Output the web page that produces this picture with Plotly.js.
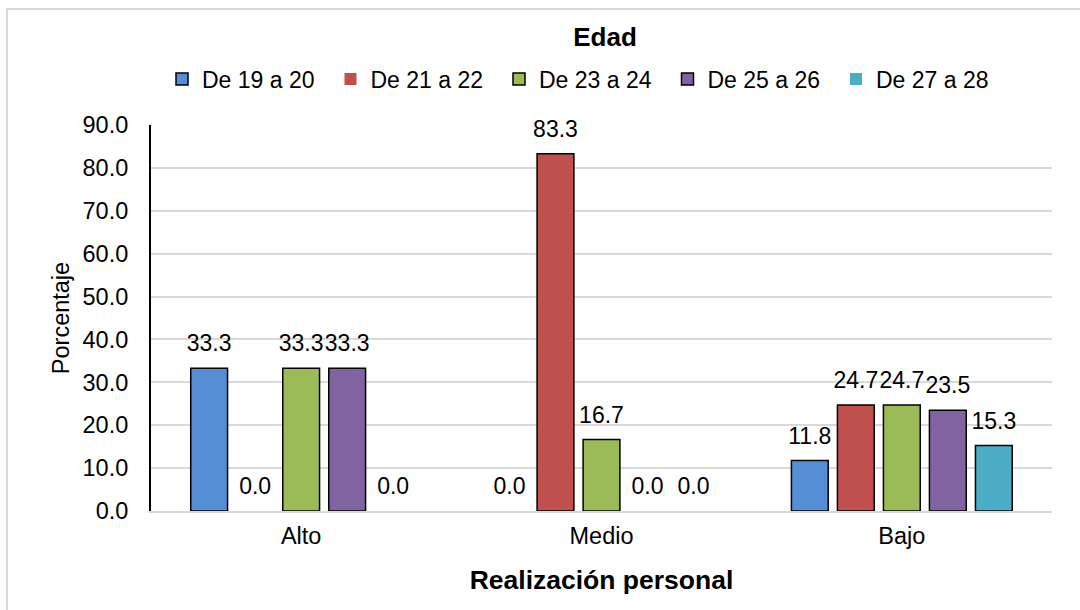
<!DOCTYPE html>
<html>
<head>
<meta charset="utf-8">
<script src="https://cdn.plot.ly/plotly-3.0.1.min.js"></script>
<style>
  html, body { margin: 0; padding: 0; background: #ffffff; overflow: hidden; }
  #frame { position: absolute; left: 6px; top: 8px; width: 1200px; height: 800px;
           border-left: 2px solid #d9d9d9; border-top: 2px solid #d9d9d9; }
  #chart { position: absolute; left: 0; top: 0; width: 1080px; height: 610px; }
</style>
</head>
<body>
<div id="frame"></div>
<div id="chart"></div>
<script>
// ---- Data ----
const categories = ['Alto', 'Medio', 'Bajo'];
const seriesNames = ['De 19 a 20', 'De 21 a 22', 'De 23 a 24', 'De 25 a 26', 'De 27 a 28'];
const de19a20 = [33.3, 0.0, 11.8];
const de21a22 = [0.0, 83.3, 24.7];
const de23a24 = [33.3, 16.7, 24.7];
const de25a26 = [33.3, 0.0, 23.5];
const de27a28 = [0.0, 0.0, 15.3];
const yTickVals = [0, 10, 20, 30, 40, 50, 60, 70, 80, 90];

const seriesValues = [de19a20, de21a22, de23a24, de25a26, de27a28];
const colors = ['#558ED5', '#C0504D', '#9BBB59', '#8064A2', '#4BACC6'];
const FONT = 'Liberation Sans, Arial, sans-serif';
const FS = 23.5;

const traces = [];
seriesValues.forEach((vals, i) => {
  traces.push({
    type: 'bar',
    name: seriesNames[i],
    x: categories,
    y: vals,
    marker: {
      color: colors[i],
      line: { color: '#000000', width: vals.map(v => (v === 0 ? 0 : 1.5)) }
    },
    hoverinfo: 'skip'
  });
});
// value labels, grouped like the bars
seriesValues.forEach((vals, i) => {
  traces.push({
    type: 'scatter',
    mode: 'markers+text',
    x: categories,
    y: vals,
    text: vals.map(v => v.toFixed(1)),
    textposition: 'top center',
    textfont: { family: FONT, size: 23, color: '#000000' },
    marker: { size: 16, opacity: 0 },
    showlegend: false,
    hoverinfo: 'skip',
    cliponaxis: false
  });
});

const layout = {
  width: 1080,
  height: 610,
  paper_bgcolor: 'rgba(0,0,0,0)',
  plot_bgcolor: 'rgba(0,0,0,0)',
  barmode: 'group',
  scattermode: 'group',
  bargap: 0.234,
  scattergap: 0.234,
  bargroupgap: 0.2,
  margin: { l: 151, r: 28, t: 125, b: 99 },
  font: { family: FONT, size: FS, color: '#000000' },
  title: {
    text: '<b>Edad</b>',
    font: { family: FONT, size: 26, color: '#000000' },
    x: 605 / 1080, xref: 'container', xanchor: 'center',
    y: 1 - 37 / 610, yref: 'container', yanchor: 'middle'
  },
  showlegend: true,
  legend: {
    orientation: 'h',
    x: (162 - 151) / 901, xanchor: 'left',
    y: (511 - 79) / 386, yanchor: 'middle',
    entrywidthmode: 'pixels',
    entrywidth: 123.5,
    font: { family: FONT, size: 23, color: '#000000' },
    bgcolor: 'rgba(0,0,0,0)',
    traceorder: 'normal'
  },
  xaxis: {
    type: 'category',
    showgrid: false,
    showline: true,
    linecolor: '#d9d9d9',
    linewidth: 2,
    ticks: '',
    ticklabelstandoff: 3,
    tickfont: { family: FONT, size: FS, color: '#000000' },
    title: {
      text: '<b>Realización personal</b>',
      font: { family: FONT, size: 26.5, color: '#000000' },
      standoff: 22
    },
    fixedrange: true
  },
  yaxis: {
    range: [0, 90],
    tickvals: yTickVals,
    tickformat: '.1f',
    showgrid: true,
    gridcolor: '#d9d9d9',
    gridwidth: 2,
    zeroline: false,
    showline: true,
    linecolor: '#000000',
    linewidth: 2,
    ticks: '',
    ticklabelstandoff: 16,
    tickfont: { family: FONT, size: FS, color: '#000000' },
    title: {
      text: 'Porcentaje',
      font: { family: FONT, size: 23.5, color: '#000000' },
      standoff: 6
    },
    fixedrange: true
  }
};

Plotly.newPlot('chart', traces, layout, { displayModeBar: false, staticPlot: true });
</script>
</body>
</html>
